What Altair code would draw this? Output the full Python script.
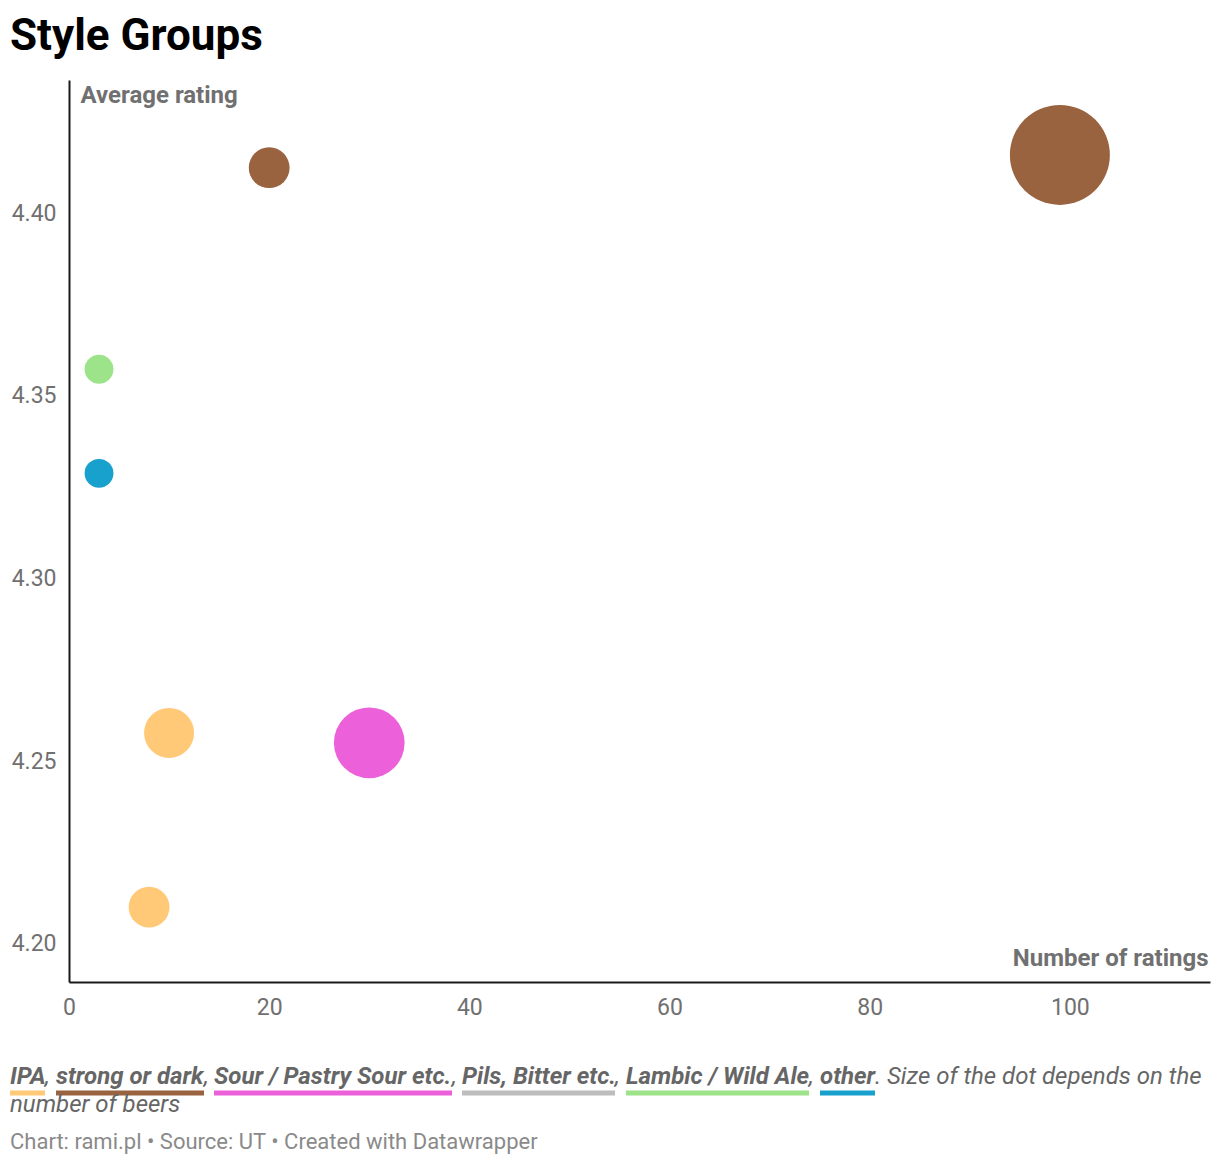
import altair as alt
import pandas as pd

# ---- data ----
groups = ["strong or dark", "strong or dark", "Lambic / Wild Ale", "other",
          "IPA", "Sour / Pastry Sour etc.", "IPA"]
num_ratings = [99, 20, 3, 3, 10, 30, 8]
avg_rating = [4.416, 4.4125, 4.3573, 4.3288, 4.2577, 4.2550, 4.2100]
num_beers = [12, 2, 1, 1, 3, 6, 2]

cat_names = ["IPA", "strong or dark", "Sour / Pastry Sour etc.",
             "Pils, Bitter etc.", "Lambic / Wild Ale", "other"]
cat_colors = ["#ffc977", "#9a6340", "#ec61d9", "#bdbdbd", "#9de38a", "#18a1cd"]

x_ticks = [0, 20, 40, 60, 80, 100]
y_ticks = [4.20, 4.25, 4.30, 4.35, 4.40]

df = pd.DataFrame({"group": groups, "ratings": num_ratings,
                   "rating": avg_rating, "beers": num_beers})

W, H = 1141, 902
OX, OY = 69, 80  # page coords of plot origin

points = alt.Chart(df).mark_circle(opacity=1).encode(
    x=alt.X("ratings:Q",
            scale=alt.Scale(domain=[0, 114], nice=False, zero=False),
            axis=alt.Axis(values=x_ticks, title="Number of ratings",
                          titleAnchor="end", titleAlign="right",
                          titleX=W - 2, titleY=-17, titleBaseline="alphabetic",
                          labelPadding=14, labelBaseline="top", labelFlush=False)),
    y=alt.Y("rating:Q",
            scale=alt.Scale(domain=[4.18948, 4.43652], nice=False, zero=False),
            axis=alt.Axis(values=y_ticks, format=".2f", title="Average rating",
                          titleAngle=0, titleAlign="left", titleBaseline="alphabetic",
                          titleX=11, titleY=22, labelPadding=13, labelFlush=False)),
    size=alt.Size("beers:Q", scale=alt.Scale(domain=[0, 12], range=[0, 10000]),
                  legend=None),
    color=alt.Color("group:N", scale=alt.Scale(domain=cat_names, range=cat_colors),
                    legend=None),
)

dummy = pd.DataFrame({"a": [0]})


def txt(s, px, py, size=24, weight="normal", style="normal", color="#666666"):
    return alt.Chart(dummy).mark_text(
        text=s, align="left", baseline="alphabetic", fontSize=size,
        fontWeight=weight, fontStyle=style, color=color, font="Roboto"
    ).encode(x=alt.value(px - OX), y=alt.value(py - OY))


def bar(x1, x2, color):
    return alt.Chart(dummy).mark_rule(strokeWidth=5, color=color).encode(
        x=alt.value(x1 - OX), x2=alt.value(x2 - OX), y=alt.value(1093 - OY))


layers = [points]
layers.append(txt("Style Groups", 10, 50, size=44, weight="bold", color="#000000"))

# legend / description line
L1 = 1084
seg = [
    ("IPA", 10, 45),
    ("strong or dark", 56, 204),
    ("Sour / Pastry Sour etc.", 214, 452),
    ("Pils, Bitter etc.", 462, 615),
    ("Lambic / Wild Ale", 626, 809),
    ("other", 820, 875),
]
for i, ((name, x1, x2), col) in enumerate(zip(seg, cat_colors)):
    layers.append(bar(x1, x2, col))
    layers.append(txt(name, x1, L1, weight="bold", style="italic"))
    if i < len(seg) - 1:
        layers.append(txt(",", x2, L1, style="italic"))
layers.append(txt(". Size of the dot depends on the", 875, L1, style="italic"))
layers.append(txt("number of beers", 10, 1112, style="italic"))
layers.append(txt("Chart: rami.pl \u2022 Source: UT \u2022 Created with Datawrapper",
                  10, 1149, size=22, color="#8a8a8a"))

chart = alt.layer(*layers).properties(
    width=W, height=H,
    autosize=alt.AutoSizeParams(type="none"),
    padding={"left": 61, "top": 72, "right": 2, "bottom": 174},
).configure(font="Roboto").configure_view(stroke=None).configure_axis(
    grid=False, ticks=False, domainColor="#1a1a1a", domainWidth=2,
    labelFont="Roboto", labelFontSize=23, labelColor="#707070",
    titleFont="Roboto", titleFontSize=24, titleFontWeight="bold",
    titleColor="#707070",
)

chart.save("out.html", embed_options={"renderer": "svg", "actions": False})
